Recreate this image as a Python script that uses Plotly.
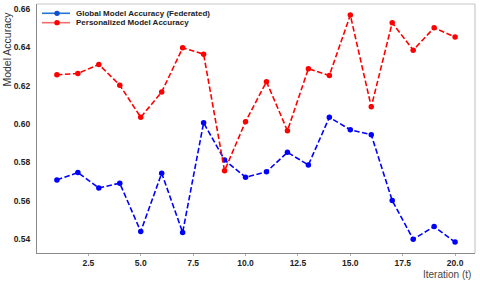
import plotly.graph_objects as go

iterations = list(range(1, 21))

global_acc = [0.5708, 0.5746, 0.5666, 0.5691, 0.5438, 0.5743, 0.5433, 0.6006, 0.5812, 0.5722,
              0.5750, 0.5852, 0.5786, 0.6035, 0.5970, 0.5944, 0.5600, 0.5398, 0.5464, 0.5383]

personal_acc = [0.6257, 0.6264, 0.6311, 0.6203, 0.6035, 0.6167, 0.6398, 0.6365, 0.5756, 0.6012,
                0.6221, 0.5965, 0.6289, 0.6254, 0.6569, 0.6090, 0.6529, 0.6386, 0.6503, 0.6454]

legend_labels = ["Global Model Accuracy (Federated)", "Personalized Model Accuracy"]
legend_line_colors = ["#1f77d4", "#f26d6d"]
legend_marker_colors = ["#1050c8", "#ff0000"]

FONT = "Liberation Sans, Arial, sans-serif"

fig = go.Figure()

fig.add_trace(go.Scatter(
    x=iterations, y=global_acc, mode="lines+markers",
    line=dict(color="#0000ff", width=1.6, dash="5.5px,2.5px"),
    marker=dict(color="#0000ff", size=5.5),
    showlegend=False))

fig.add_trace(go.Scatter(
    x=iterations, y=personal_acc, mode="lines+markers",
    line=dict(color="#ff0000", width=1.6, dash="5.5px,2.5px"),
    marker=dict(color="#ff0000", size=5.5),
    showlegend=False))

# hand-drawn legend (compact, like the original)
shapes = []
annotations = []
rows_y = [0.9627, 0.925]
for lab, lc, mc, yy in zip(legend_labels, legend_line_colors, legend_marker_colors, rows_y):
    shapes.append(dict(type="line", xref="paper", yref="paper",
                       x0=0.0114, x1=0.0753, y0=yy, y1=yy,
                       line=dict(color=lc, width=1.6)))
    shapes.append(dict(type="circle", xref="paper", yref="paper",
                       x0=0.0457 - 0.0062, x1=0.0457 + 0.0062,
                       y0=yy - 0.0105, y1=yy + 0.0105,
                       fillcolor=mc, line=dict(color=mc, width=0)))
    annotations.append(dict(xref="paper", yref="paper", x=0.0845, y=yy,
                            xanchor="left", yanchor="middle", showarrow=False,
                            text="<b>%s</b>" % lab,
                            font=dict(family=FONT, size=8, color="#222222")))

# top / right light frame
shapes.append(dict(type="line", xref="paper", yref="paper", x0=0, x1=1, y0=1, y1=1,
                   line=dict(color="#c8c8c8", width=1.2)))
shapes.append(dict(type="line", xref="paper", yref="paper", x0=1, x1=1, y0=0, y1=1,
                   line=dict(color="#c8c8c8", width=1.2)))

annotations.append(dict(xref="paper", yref="paper", x=-0.069, y=0.82,
                        xanchor="center", yanchor="middle", showarrow=False,
                        textangle=-90, text="Model Accuracy",
                        font=dict(family=FONT, size=10.5, color="#333333")))
annotations.append(dict(xref="paper", yref="paper", x=0.995, y=-0.088,
                        xanchor="right", yanchor="middle", showarrow=False,
                        text="Iteration (t)",
                        font=dict(family=FONT, size=10, color="#444444")))

fig.update_layout(
    width=480, height=282,
    margin=dict(l=37, r=5, t=4, b=29),
    paper_bgcolor="white", plot_bgcolor="white",
    shapes=shapes, annotations=annotations,
    xaxis=dict(range=[0.05, 20.95], tickvals=[2.5, 5, 7.5, 10, 12.5, 15, 17.5, 20],
               ticktext=["<b>2.5</b>", "<b>5.0</b>", "<b>7.5</b>", "<b>10.0</b>",
                         "<b>12.5</b>", "<b>15.0</b>", "<b>17.5</b>", "<b>20.0</b>"],
               showgrid=False, zeroline=False, showline=True, linecolor="#8a8a8a", linewidth=1.2,
               ticks="outside", ticklen=2, tickcolor="#aaaaaa",
               tickfont=dict(family=FONT, size=8.5, color="#222222")),
    yaxis=dict(range=[0.5326, 0.6627], tickvals=[0.54, 0.56, 0.58, 0.60, 0.62, 0.64, 0.66],
               ticktext=["<b>0.54</b>", "<b>0.56</b>", "<b>0.58</b>", "<b>0.60</b>",
                         "<b>0.62</b>", "<b>0.64</b>", "<b>0.66</b>"],
               showgrid=False, zeroline=False, showline=True, linecolor="#8a8a8a", linewidth=1.2,
               ticks="", ticklabelstandoff=4,
               tickfont=dict(family=FONT, size=8.5, color="#222222")),
)

# the page's default body margin would shift the figure by 8px
fig.write_html("out.html", config={"displayModeBar": False},
               post_script="document.body.style.margin='0';")
